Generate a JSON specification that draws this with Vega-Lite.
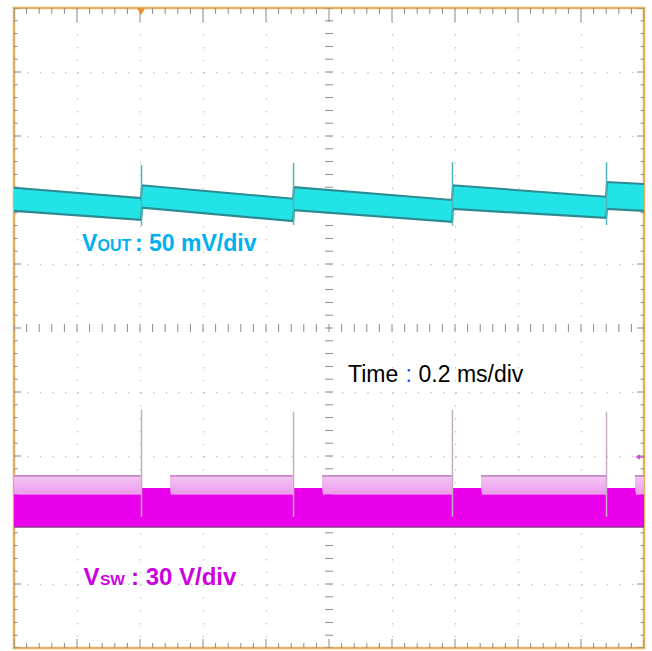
{
  "$schema": "https://vega.github.io/schema/vega-lite/v6.json",
  "width": 630,
  "height": 640,
  "autosize": {"type": "none"},
  "padding": {"left": 14, "top": 8, "right": 8, "bottom": 3},
  "background": "white",
  "config": {
    "view": {"stroke": "#E2B063", "strokeWidth": 2.5},
    "axis": {"labels": false, "ticks": false, "domain": false}
  },
  "datasets": {
    "ticks": [
      {"x":0,"y":-5,"m":1},{"x":0.2,"y":-4.8,"m":0},{"x":0.4,"y":-4.6,"m":0},{"x":0.6,"y":-4.4,"m":0},{"x":0.8,"y":-4.2,"m":0},
      {"x":1,"y":-4,"m":1},{"x":1.2,"y":-3.8,"m":0},{"x":1.4,"y":-3.6,"m":0},{"x":1.6,"y":-3.4,"m":0},{"x":1.8,"y":-3.2,"m":0},
      {"x":2,"y":-3,"m":1},{"x":2.2,"y":-2.8,"m":0},{"x":2.4,"y":-2.6,"m":0},{"x":2.6,"y":-2.4,"m":0},{"x":2.8,"y":-2.2,"m":0},
      {"x":3,"y":-2,"m":1},{"x":3.2,"y":-1.8,"m":0},{"x":3.4,"y":-1.6,"m":0},{"x":3.6,"y":-1.4,"m":0},{"x":3.8,"y":-1.2,"m":0},
      {"x":4,"y":-1,"m":1},{"x":4.2,"y":-0.8,"m":0},{"x":4.4,"y":-0.6,"m":0},{"x":4.6,"y":-0.4,"m":0},{"x":4.8,"y":-0.2,"m":0},
      {"x":5,"y":0,"m":1},{"x":5.2,"y":0.2,"m":0},{"x":5.4,"y":0.4,"m":0},{"x":5.6,"y":0.6,"m":0},{"x":5.8,"y":0.8,"m":0},
      {"x":6,"y":1,"m":1},{"x":6.2,"y":1.2,"m":0},{"x":6.4,"y":1.4,"m":0},{"x":6.6,"y":1.6,"m":0},{"x":6.8,"y":1.8,"m":0},
      {"x":7,"y":2,"m":1},{"x":7.2,"y":2.2,"m":0},{"x":7.4,"y":2.4,"m":0},{"x":7.6,"y":2.6,"m":0},{"x":7.8,"y":2.8,"m":0},
      {"x":8,"y":3,"m":1},{"x":8.2,"y":3.2,"m":0},{"x":8.4,"y":3.4,"m":0},{"x":8.6,"y":3.6,"m":0},{"x":8.8,"y":3.8,"m":0},
      {"x":9,"y":4,"m":1},{"x":9.2,"y":4.2,"m":0},{"x":9.4,"y":4.4,"m":0},{"x":9.6,"y":4.6,"m":0},{"x":9.8,"y":4.8,"m":0},
      {"x":10,"y":5,"m":1}
    ],
    "vout": [
      {"x":0,"top":2.19,"bot":1.83},
      {"x":2.016,"top":2.03,"bot":1.69},
      {"x":2.032,"top":2.23,"bot":1.88},
      {"x":4.429,"top":2.02,"bot":1.67},
      {"x":4.444,"top":2.2,"bot":1.84},
      {"x":6.952,"top":2.0,"bot":1.66},
      {"x":6.968,"top":2.23,"bot":1.86},
      {"x":9.397,"top":2.05,"bot":1.72},
      {"x":9.413,"top":2.28,"bot":1.86},
      {"x":10,"top":2.25,"bot":1.83}
    ],
    "voutSpikes": [
      {"x":2.024,"hi":2.55,"lo":1.6},
      {"x":4.437,"hi":2.58,"lo":1.61},
      {"x":6.96,"hi":2.59,"lo":1.6},
      {"x":9.405,"hi":2.59,"lo":1.61}
    ],
    "vsw": [
      {"x":0,"top":-2.6,"bot":-3.11},
      {"x":2.016,"top":-2.6,"bot":-3.11},
      {"x":2.032,"top":-2.5,"bot":-3.11},
      {"x":2.476,"top":-2.5,"bot":-3.11},
      {"x":2.49,"top":-2.6,"bot":-3.11},
      {"x":4.429,"top":-2.6,"bot":-3.11},
      {"x":4.444,"top":-2.5,"bot":-3.11},
      {"x":4.889,"top":-2.5,"bot":-3.11},
      {"x":4.905,"top":-2.6,"bot":-3.11},
      {"x":6.952,"top":-2.6,"bot":-3.11},
      {"x":6.968,"top":-2.5,"bot":-3.11},
      {"x":7.413,"top":-2.5,"bot":-3.11},
      {"x":7.43,"top":-2.6,"bot":-3.11},
      {"x":9.397,"top":-2.6,"bot":-3.11},
      {"x":9.413,"top":-2.5,"bot":-3.11},
      {"x":9.857,"top":-2.5,"bot":-3.11},
      {"x":9.873,"top":-2.6,"bot":-3.11},
      {"x":10,"top":-2.6,"bot":-3.11}
    ],
    "vswBursts": [
      {"x1":0,"x2":2.016},
      {"x1":2.476,"x2":4.429},
      {"x1":4.889,"x2":6.952},
      {"x1":7.413,"x2":9.397},
      {"x1":9.857,"x2":10}
    ],
    "vswSpikes": [
      {"x":2.024,"hi":-1.28,"lo":-2.95},
      {"x":4.437,"hi":-1.31,"lo":-2.95},
      {"x":6.96,"hi":-1.28,"lo":-2.95},
      {"x":9.405,"hi":-1.31,"lo":-2.95}
    ]
  },
  "layer": [
    {
      "mark": {"type": "rule", "color": "#a3a3a3", "strokeWidth": 1},
      "encoding": {
        "x": {"datum": 5, "type": "quantitative",
          "scale": {"domain": [0, 10], "nice": false, "zero": false},
          "axis": {"values": [1,2,3,4,6,7,8,9], "grid": true, "gridColor": "#c8c8c8", "gridDash": [1.5, 11.3], "gridWidth": 1.3, "labels": false, "ticks": false, "domain": false, "title": null}}
      }
    },
    {
      "mark": {"type": "rule", "color": "#a3a3a3", "strokeWidth": 1},
      "encoding": {
        "y": {"datum": 0, "type": "quantitative",
          "scale": {"domain": [-5, 5], "nice": false, "zero": false},
          "axis": {"values": [-4,-3,-2,-1,1,2,3,4], "grid": true, "gridColor": "#c8c8c8", "gridDash": [1.5, 11.1], "gridWidth": 1.3, "labels": false, "ticks": false, "domain": false, "title": null}}
      }
    },
    {
      "data": {"name": "ticks"},
      "mark": {"type": "tick", "orient": "vertical", "color": "#8a8a8a", "thickness": 1, "opacity": 1, "clip": true},
      "encoding": {
        "x": {"field": "x", "type": "quantitative", "title": null},
        "y": {"datum": 5},
        "size": {"condition": {"test": "datum.m == 1", "value": 28}, "value": 12}
      }
    },
    {
      "data": {"name": "ticks"},
      "mark": {"type": "tick", "orient": "vertical", "color": "#8a8a8a", "thickness": 1, "opacity": 1, "clip": true},
      "encoding": {
        "x": {"field": "x", "type": "quantitative", "title": null},
        "y": {"datum": -5},
        "size": {"condition": {"test": "datum.m == 1", "value": 18}, "value": 10}
      }
    },
    {
      "data": {"name": "ticks"},
      "mark": {"type": "tick", "orient": "horizontal", "color": "#8a8a8a", "thickness": 1, "opacity": 1, "clip": true},
      "encoding": {
        "y": {"field": "y", "type": "quantitative", "title": null},
        "x": {"datum": 0},
        "size": {"condition": {"test": "datum.m == 1", "value": 14}, "value": 7}
      }
    },
    {
      "data": {"name": "ticks"},
      "mark": {"type": "tick", "orient": "horizontal", "color": "#8a8a8a", "thickness": 1, "opacity": 1, "clip": true},
      "encoding": {
        "y": {"field": "y", "type": "quantitative", "title": null},
        "x": {"datum": 10},
        "size": {"condition": {"test": "datum.m == 1", "value": 14}, "value": 7}
      }
    },
    {
      "data": {"name": "ticks"},
      "mark": {"type": "tick", "orient": "vertical", "color": "#8a8a8a", "thickness": 1, "opacity": 1, "clip": true},
      "encoding": {
        "x": {"field": "x", "type": "quantitative", "title": null},
        "y": {"datum": 0},
        "size": {"value": 8}
      }
    },
    {
      "data": {"name": "ticks"},
      "mark": {"type": "tick", "orient": "horizontal", "color": "#8a8a8a", "thickness": 1, "opacity": 1, "clip": true},
      "encoding": {
        "y": {"field": "y", "type": "quantitative", "title": null},
        "x": {"datum": 5},
        "size": {"value": 8}
      }
    },
    {
      "data": {"name": "vout"},
      "mark": {"type": "area", "color": "#22E3E6", "opacity": 1, "clip": true},
      "encoding": {
        "x": {"field": "x", "type": "quantitative", "title": null},
        "y": {"field": "top", "type": "quantitative", "title": null},
        "y2": {"field": "bot"}
      }
    },
    {
      "data": {"name": "vout"},
      "mark": {"type": "line", "color": "#2B8A92", "strokeWidth": 2, "clip": true},
      "encoding": {
        "x": {"field": "x", "type": "quantitative", "title": null},
        "y": {"field": "top", "type": "quantitative", "title": null}
      }
    },
    {
      "data": {"name": "vout"},
      "mark": {"type": "line", "color": "#2B8A92", "strokeWidth": 2.2, "clip": true},
      "encoding": {
        "x": {"field": "x", "type": "quantitative", "title": null},
        "y": {"field": "bot", "type": "quantitative", "title": null}
      }
    },
    {
      "data": {"name": "voutSpikes"},
      "mark": {"type": "rule", "color": "#4FB5BC", "strokeWidth": 1.5, "clip": true},
      "encoding": {
        "x": {"field": "x", "type": "quantitative", "title": null},
        "y": {"field": "hi", "type": "quantitative", "title": null},
        "y2": {"field": "lo"}
      }
    },
    {
      "data": {"name": "vswBursts"},
      "mark": {"type": "rect", "clip": true,
        "fill": {"gradient": "linear", "x1": 0, "y1": 0, "x2": 0, "y2": 1,
          "stops": [{"offset": 0, "color": "#A85AB0"}, {"offset": 0.12, "color": "#F2C2F2"}, {"offset": 1, "color": "#EC9CEC"}]}},
      "encoding": {
        "x": {"field": "x1", "type": "quantitative", "title": null},
        "x2": {"field": "x2"},
        "y": {"datum": -2.3},
        "y2": {"datum": -2.6}
      }
    },
    {
      "data": {"name": "vsw"},
      "mark": {"type": "area", "color": "#EB00EB", "opacity": 1, "clip": true},
      "encoding": {
        "x": {"field": "x", "type": "quantitative", "title": null},
        "y": {"field": "top", "type": "quantitative", "title": null},
        "y2": {"field": "bot"}
      }
    },
    {
      "data": {"name": "vsw"},
      "mark": {"type": "line", "color": "#8E3A8E", "strokeWidth": 1.5, "clip": true},
      "encoding": {
        "x": {"field": "x", "type": "quantitative", "title": null},
        "y": {"field": "bot", "type": "quantitative", "title": null}
      }
    },
    {
      "data": {"name": "vswSpikes"},
      "mark": {"type": "rule", "color": "#C4AEC4", "strokeWidth": 1.5, "clip": true},
      "encoding": {
        "x": {"field": "x", "type": "quantitative", "title": null},
        "y": {"field": "hi", "type": "quantitative", "title": null},
        "y2": {"field": "lo"}
      }
    },
    {
      "data": {"values": [{"x": 1.079, "y": 1.203, "t": "V"}, {"x": 1.921, "y": 1.203, "t": ": 50 mV/div"}]},
      "mark": {"type": "text", "align": "left", "baseline": "alphabetic", "font": "Liberation Sans", "fontWeight": "bold", "fontSize": 23, "color": "#00B0F0"},
      "encoding": {
        "x": {"field": "x", "type": "quantitative", "title": null},
        "y": {"field": "y", "type": "quantitative", "title": null},
        "text": {"field": "t"}
      }
    },
    {
      "data": {"values": [{"x": 1.325, "y": 1.203, "t": "OUT"}]},
      "mark": {"type": "text", "align": "left", "baseline": "alphabetic", "font": "Liberation Sans", "fontWeight": "bold", "fontSize": 16, "color": "#00B0F0"},
      "encoding": {
        "x": {"field": "x", "type": "quantitative", "title": null},
        "y": {"field": "y", "type": "quantitative", "title": null},
        "text": {"field": "t"}
      }
    },
    {
      "data": {"values": [{"x": 1.103, "y": -4.016, "t": "V"}, {"x": 1.857, "y": -4.016, "t": ": 30 V/div"}]},
      "mark": {"type": "text", "align": "left", "baseline": "alphabetic", "font": "Liberation Sans", "fontWeight": "bold", "fontSize": 24, "color": "#CC00E0"},
      "encoding": {
        "x": {"field": "x", "type": "quantitative", "title": null},
        "y": {"field": "y", "type": "quantitative", "title": null},
        "text": {"field": "t"}
      }
    },
    {
      "data": {"values": [{"x": 1.365, "y": -4.016, "t": "SW"}]},
      "mark": {"type": "text", "align": "left", "baseline": "alphabetic", "font": "Liberation Sans", "fontWeight": "bold", "fontSize": 15.5, "color": "#CC00E0"},
      "encoding": {
        "x": {"field": "x", "type": "quantitative", "title": null},
        "y": {"field": "y", "type": "quantitative", "title": null},
        "text": {"field": "t"}
      }
    },
    {
      "data": {"values": [{"x": 5.302, "y": -0.844, "t": "Time"}, {"x": 6.421, "y": -0.844, "t": "0.2 ms/div"}]},
      "mark": {"type": "text", "align": "left", "baseline": "alphabetic", "font": "Liberation Sans", "fontSize": 23, "color": "#000000"},
      "encoding": {
        "x": {"field": "x", "type": "quantitative", "title": null},
        "y": {"field": "y", "type": "quantitative", "title": null},
        "text": {"field": "t"}
      }
    },
    {
      "data": {"values": [{"x": 6.214, "y": -0.844, "t": ":"}]},
      "mark": {"type": "text", "align": "left", "baseline": "alphabetic", "font": "Liberation Sans", "fontSize": 23, "color": "#2B4BFF"},
      "encoding": {
        "x": {"field": "x", "type": "quantitative", "title": null},
        "y": {"field": "y", "type": "quantitative", "title": null},
        "text": {"field": "t"}
      }
    },
    {
      "data": {"values": [{"x": 2.016, "y": 4.94}]},
      "mark": {"type": "point", "shape": "triangle-down", "filled": true, "color": "#E8902A", "size": 60, "opacity": 1},
      "encoding": {
        "x": {"field": "x", "type": "quantitative", "title": null},
        "y": {"field": "y", "type": "quantitative", "title": null}
      }
    },
    {
      "data": {"values": [{"x": 9.9, "x2": 10, "y": -2.016}]},
      "mark": {"type": "rule", "color": "#D050D0", "strokeWidth": 1.5},
      "encoding": {
        "x": {"field": "x", "type": "quantitative", "title": null},
        "x2": {"field": "x2"},
        "y": {"field": "y", "type": "quantitative", "title": null}
      }
    },
    {
      "data": {"values": [{"x": 9.9, "y": -2.016}]},
      "mark": {"type": "point", "shape": "triangle-left", "filled": true, "color": "#D050D0", "size": 30, "opacity": 1},
      "encoding": {
        "x": {"field": "x", "type": "quantitative", "title": null},
        "y": {"field": "y", "type": "quantitative", "title": null}
      }
    }
  ]
}
